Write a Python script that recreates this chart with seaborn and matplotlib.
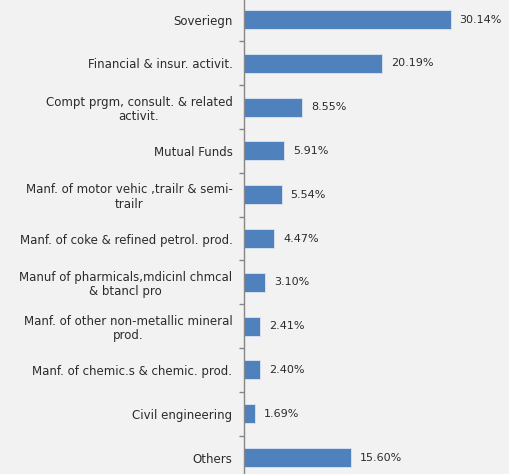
import matplotlib
matplotlib.use("Agg")
import matplotlib.pyplot as plt
from matplotlib.ticker import FixedLocator
import seaborn as sns
import pandas as pd

categories = [
    "Soveriegn",
    "Financial & insur. activit.",
    "Compt prgm, consult. & related\nactivit.",
    "Mutual Funds",
    "Manf. of motor vehic ,trailr & semi-\ntrailr",
    "Manf. of coke & refined petrol. prod.",
    "Manuf of pharmicals,mdicinl chmcal\n& btancl pro",
    "Manf. of other non-metallic mineral\nprod.",
    "Manf. of chemic.s & chemic. prod.",
    "Civil engineering",
    "Others",
]
values = [30.14, 20.19, 8.55, 5.91, 5.54, 4.47, 3.10, 2.41, 2.40, 1.69, 15.60]

df = pd.DataFrame({"sector": categories, "share": values})

sns.set_theme(style="white")
plt.rcParams["font.family"] = ["DejaVu Sans"]

bg = "#F2F2F2"
bar_color = "#4F81BD"
axis_grey = "#868686"
text_color = "#2B2B2B"
fs_cat = 8.5
fs_val = 8.0

W, H, DPI = 509, 474, 100
fig = plt.figure(figsize=(W / DPI, H / DPI), dpi=DPI, facecolor=bg)

# axes: left edge at the category axis line, category pitch ~43.8 px
x0 = 243.5
pitch = 43.8
top_px = 19.5 - pitch / 2
bottom_px = top_px + pitch * len(categories)
ax = fig.add_axes([x0 / W, 1 - bottom_px / H, (W - x0) / W, (bottom_px - top_px) / H])
ax.set_facecolor(bg)

sns.barplot(data=df, x="share", y="sector", orient="h", color=bar_color,
            width=0.43, edgecolor="#DCE6F2", linewidth=0.6, ax=ax, saturation=1)

px_per_unit = 6.868
ax.set_xlim(0, (W - x0) / px_per_unit)
ax.set_ylim(len(categories) - 0.5, -0.5)

for i, v in enumerate(values):
    ax.annotate(f"{v:.2f}%", xy=(v, i), xytext=(6.5, 0), textcoords="offset points",
                ha="left", va="center", fontsize=fs_val, color=text_color)

for s in ["top", "right", "bottom"]:
    ax.spines[s].set_visible(False)
ax.spines["left"].set_color(axis_grey)
ax.spines["left"].set_linewidth(1.0)

ax.set_xticks([])
ax.set_xlabel("")
ax.set_ylabel("")
ax.set_yticks(range(len(categories)), labels=categories, multialignment="center",
              linespacing=1.15)
ax.yaxis.set_minor_locator(FixedLocator([i + 0.5 for i in range(-1, len(categories))]))
ax.tick_params(axis="y", which="major", length=0, pad=8, labelsize=fs_cat, labelcolor=text_color)
ax.tick_params(axis="y", which="minor", length=3.5, width=1.0, color=axis_grey, direction="out", left=True)

fig.savefig("out.png", dpi=DPI, facecolor=bg)
